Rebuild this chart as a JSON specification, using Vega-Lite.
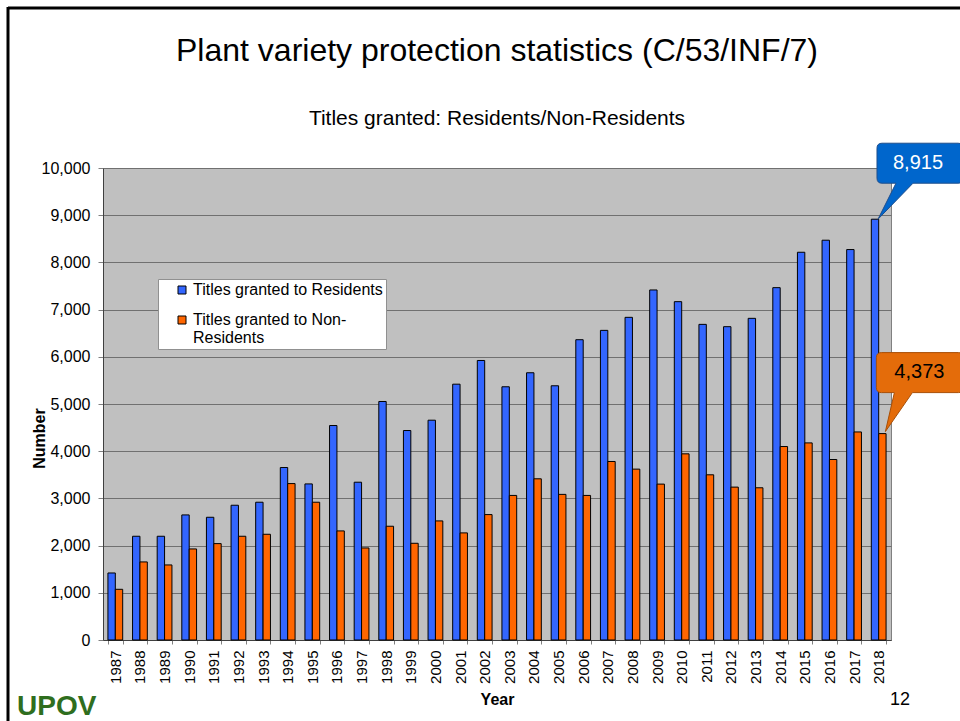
{
  "$schema": "https://vega.github.io/schema/vega-lite/v6.json",
  "width": 788,
  "height": 472,
  "autosize": {"type": "none"},
  "padding": {"left": 103, "top": 168, "right": 69, "bottom": 81},
  "background": "white",
  "title": {
    "text": "Plant variety protection statistics (C/53/INF/7)",
    "subtitle": "Titles granted: Residents/Non-Residents",
    "anchor": "middle",
    "frame": "group",
    "fontSize": 32,
    "fontWeight": "normal",
    "font": "Liberation Sans",
    "color": "black",
    "subtitleFontSize": 21,
    "subtitleFont": "Liberation Sans",
    "subtitleColor": "black",
    "subtitlePadding": 40,
    "offset": 0,
    "dy": 124
  },
  "datasets": {
    "titles": [
      {"year": "1987", "series": "Titles granted to Residents", "value": 1420},
      {"year": "1988", "series": "Titles granted to Residents", "value": 2198},
      {"year": "1989", "series": "Titles granted to Residents", "value": 2198},
      {"year": "1990", "series": "Titles granted to Residents", "value": 2650},
      {"year": "1991", "series": "Titles granted to Residents", "value": 2600},
      {"year": "1992", "series": "Titles granted to Residents", "value": 2855},
      {"year": "1993", "series": "Titles granted to Residents", "value": 2919},
      {"year": "1994", "series": "Titles granted to Residents", "value": 3654},
      {"year": "1995", "series": "Titles granted to Residents", "value": 3307},
      {"year": "1996", "series": "Titles granted to Residents", "value": 4544},
      {"year": "1997", "series": "Titles granted to Residents", "value": 3343},
      {"year": "1998", "series": "Titles granted to Residents", "value": 5053},
      {"year": "1999", "series": "Titles granted to Residents", "value": 4438},
      {"year": "2000", "series": "Titles granted to Residents", "value": 4657},
      {"year": "2001", "series": "Titles granted to Residents", "value": 5420},
      {"year": "2002", "series": "Titles granted to Residents", "value": 5922},
      {"year": "2003", "series": "Titles granted to Residents", "value": 5365},
      {"year": "2004", "series": "Titles granted to Residents", "value": 5662},
      {"year": "2005", "series": "Titles granted to Residents", "value": 5386},
      {"year": "2006", "series": "Titles granted to Residents", "value": 6362},
      {"year": "2007", "series": "Titles granted to Residents", "value": 6560},
      {"year": "2008", "series": "Titles granted to Residents", "value": 6836},
      {"year": "2009", "series": "Titles granted to Residents", "value": 7416},
      {"year": "2010", "series": "Titles granted to Residents", "value": 7168},
      {"year": "2011", "series": "Titles granted to Residents", "value": 6687},
      {"year": "2012", "series": "Titles granted to Residents", "value": 6638},
      {"year": "2013", "series": "Titles granted to Residents", "value": 6815},
      {"year": "2014", "series": "Titles granted to Residents", "value": 7465},
      {"year": "2015", "series": "Titles granted to Residents", "value": 8215},
      {"year": "2016", "series": "Titles granted to Residents", "value": 8470},
      {"year": "2017", "series": "Titles granted to Residents", "value": 8272},
      {"year": "2018", "series": "Titles granted to Residents", "value": 8915},
      {"year": "1987", "series": "Titles granted to Non-Residents", "value": 1074},
      {"year": "1988", "series": "Titles granted to Non-Residents", "value": 1654},
      {"year": "1989", "series": "Titles granted to Non-Residents", "value": 1590},
      {"year": "1990", "series": "Titles granted to Non-Residents", "value": 1929},
      {"year": "1991", "series": "Titles granted to Non-Residents", "value": 2042},
      {"year": "1992", "series": "Titles granted to Non-Residents", "value": 2198},
      {"year": "1993", "series": "Titles granted to Non-Residents", "value": 2240},
      {"year": "1994", "series": "Titles granted to Non-Residents", "value": 3314},
      {"year": "1995", "series": "Titles granted to Non-Residents", "value": 2919},
      {"year": "1996", "series": "Titles granted to Non-Residents", "value": 2311},
      {"year": "1997", "series": "Titles granted to Non-Residents", "value": 1950},
      {"year": "1998", "series": "Titles granted to Non-Residents", "value": 2410},
      {"year": "1999", "series": "Titles granted to Non-Residents", "value": 2049},
      {"year": "2000", "series": "Titles granted to Non-Residents", "value": 2523},
      {"year": "2001", "series": "Titles granted to Non-Residents", "value": 2269},
      {"year": "2002", "series": "Titles granted to Non-Residents", "value": 2657},
      {"year": "2003", "series": "Titles granted to Non-Residents", "value": 3063},
      {"year": "2004", "series": "Titles granted to Non-Residents", "value": 3415},
      {"year": "2005", "series": "Titles granted to Non-Residents", "value": 3085},
      {"year": "2006", "series": "Titles granted to Non-Residents", "value": 3063},
      {"year": "2007", "series": "Titles granted to Non-Residents", "value": 3782},
      {"year": "2008", "series": "Titles granted to Non-Residents", "value": 3620},
      {"year": "2009", "series": "Titles granted to Non-Residents", "value": 3303},
      {"year": "2010", "series": "Titles granted to Non-Residents", "value": 3944},
      {"year": "2011", "series": "Titles granted to Non-Residents", "value": 3500},
      {"year": "2012", "series": "Titles granted to Non-Residents", "value": 3239},
      {"year": "2013", "series": "Titles granted to Non-Residents", "value": 3225},
      {"year": "2014", "series": "Titles granted to Non-Residents", "value": 4099},
      {"year": "2015", "series": "Titles granted to Non-Residents", "value": 4176},
      {"year": "2016", "series": "Titles granted to Non-Residents", "value": 3824},
      {"year": "2017", "series": "Titles granted to Non-Residents", "value": 4408},
      {"year": "2018", "series": "Titles granted to Non-Residents", "value": 4373}
    ],
    "callouts": [
      {"year": "2018", "series": "Titles granted to Residents", "value": 8915, "label": "8,915"},
      {"year": "2018", "series": "Titles granted to Non-Residents", "value": 4373, "label": "4,373"}
    ],
    "blank": [{}]
  },
  "layer": [
    {
      "data": {"name": "titles"},
      "mark": {"type": "bar", "stroke": "black", "strokeWidth": 1},
      "encoding": {
        "x": {
          "field": "year", "type": "nominal",
          "scale": {"paddingInner": 0.4, "paddingOuter": 0.2},
          "axis": {
            "title": "Year", "titleFontWeight": "bold", "titleFontSize": 16, "titleColor": "black",
            "labelAngle": 270, "labelFontSize": 15, "labelColor": "black", "labelPadding": 6,
            "tickSize": 4, "tickBand": "extent", "tickColor": "#808080",
            "domainColor": "#404040", "grid": false, "titlePadding": 8
          }
        },
        "xOffset": {
          "field": "series", "type": "nominal",
          "scale": {"domain": ["Titles granted to Residents", "Titles granted to Non-Residents"]}
        },
        "y": {
          "field": "value", "type": "quantitative",
          "scale": {"domain": [0, 10000], "nice": false},
          "axis": {
            "title": "Number", "titleFontWeight": "bold", "titleFontSize": 16, "titleColor": "black",
            "titleX": -56, "titleY": 270,
            "values": [0, 1000, 2000, 3000, 4000, 5000, 6000, 7000, 8000, 9000, 10000],
            "format": ",d", "labelFontSize": 16, "labelColor": "black", "labelPadding": 8,
            "tickColor": "#808080", "tickSize": 5, "domainColor": "#404040",
            "gridColor": "#707070", "gridWidth": 1
          }
        },
        "color": {
          "field": "series", "type": "nominal",
          "scale": {
            "domain": ["Titles granted to Residents", "Titles granted to Non-Residents"],
            "range": ["#3366FF", "#FF6600"]
          },
          "legend": {
            "title": null, "orient": "none", "legendX": 55, "legendY": 111,
            "fillColor": "white", "strokeColor": "#909090", "padding": 3,
            "symbolOffset": 13, "symbolType": "square", "symbolSize": 64,
            "symbolStrokeColor": "black", "symbolStrokeWidth": 1,
            "labelFontSize": 16, "labelColor": "black", "labelLimit": 300,
            "rowPadding": 14, "labelOffset": 3,
            "labelExpr": "datum.label == 'Titles granted to Non-Residents' ? ['Titles granted to Non-', 'Residents'] : datum.label"
          }
        }
      }
    },
    {
      "data": {"name": "callouts"},
      "transform": [{"filter": "datum.series == 'Titles granted to Residents'"}],
      "mark": {
        "type": "point", "filled": true, "opacity": 1, "size": 4,
        "shape": "M3,0 L21,-36 L7,-36 Q2,-36 2,-41 L2,-71 Q2,-76 7,-76 L83,-76 Q88,-76 88,-71 L88,-41 Q88,-36 83,-36 L38,-36 Z",
        "fill": "#0066CC", "stroke": "#1F4E8C", "strokeWidth": 1
      },
      "encoding": {
        "x": {"field": "year", "type": "nominal"},
        "xOffset": {"field": "series", "type": "nominal"},
        "y": {"field": "value", "type": "quantitative"}
      }
    },
    {
      "data": {"name": "callouts"},
      "transform": [{"filter": "datum.series == 'Titles granted to Residents'"}],
      "mark": {"type": "text", "dx": 43, "dy": -56, "align": "center", "baseline": "middle", "fontSize": 20, "color": "white", "font": "Liberation Sans"},
      "encoding": {
        "x": {"field": "year", "type": "nominal"},
        "xOffset": {"field": "series", "type": "nominal"},
        "y": {"field": "value", "type": "quantitative"},
        "text": {"field": "label"}
      }
    },
    {
      "data": {"name": "callouts"},
      "transform": [{"filter": "datum.series == 'Titles granted to Non-Residents'"}],
      "mark": {
        "type": "point", "filled": true, "opacity": 1, "size": 4,
        "shape": "M3,-2 L12,-41 L-1,-41 Q-6,-41 -6,-46 L-6,-76 Q-6,-81 -1,-81 L76,-81 Q81,-81 81,-76 L81,-46 Q81,-41 76,-41 L30,-41 Z",
        "fill": "#E46C0A", "stroke": "#A84F07", "strokeWidth": 1
      },
      "encoding": {
        "x": {"field": "year", "type": "nominal"},
        "xOffset": {"field": "series", "type": "nominal"},
        "y": {"field": "value", "type": "quantitative"}
      }
    },
    {
      "data": {"name": "callouts"},
      "transform": [{"filter": "datum.series == 'Titles granted to Non-Residents'"}],
      "mark": {"type": "text", "dx": 37, "dy": -62, "align": "center", "baseline": "middle", "fontSize": 20, "color": "black", "font": "Liberation Sans"},
      "encoding": {
        "x": {"field": "year", "type": "nominal"},
        "xOffset": {"field": "series", "type": "nominal"},
        "y": {"field": "value", "type": "quantitative"},
        "text": {"field": "label"}
      }
    },
    {
      "data": {"name": "blank"},
      "mark": {"type": "rule", "color": "black", "strokeWidth": 3},
      "encoding": {"x": {"value": -95}, "x2": {"value": 857}, "y": {"value": -160}}
    },
    {
      "data": {"name": "blank"},
      "mark": {"type": "rule", "color": "black", "strokeWidth": 3},
      "encoding": {"x": {"value": -95}, "y": {"value": -161}, "y2": {"value": 553}}
    },
    {
      "data": {"name": "blank"},
      "mark": {"type": "text", "align": "left", "baseline": "alphabetic", "fontSize": 28, "fontWeight": "bold", "color": "#2F6E1E", "font": "Liberation Sans"},
      "encoding": {"x": {"value": -86}, "y": {"value": 547}, "text": {"value": "UPOV"}}
    },
    {
      "data": {"name": "blank"},
      "mark": {"type": "text", "align": "center", "baseline": "alphabetic", "fontSize": 18, "color": "black", "font": "Liberation Sans"},
      "encoding": {"x": {"value": 797}, "y": {"value": 537}, "text": {"value": "12"}}
    }
  ],
  "config": {
    "font": "Liberation Sans",
    "view": {"fill": "#C0C0C0", "stroke": "#808080"},
    "style": {"guide-label": {"lineHeight": 18}}
  }
}
